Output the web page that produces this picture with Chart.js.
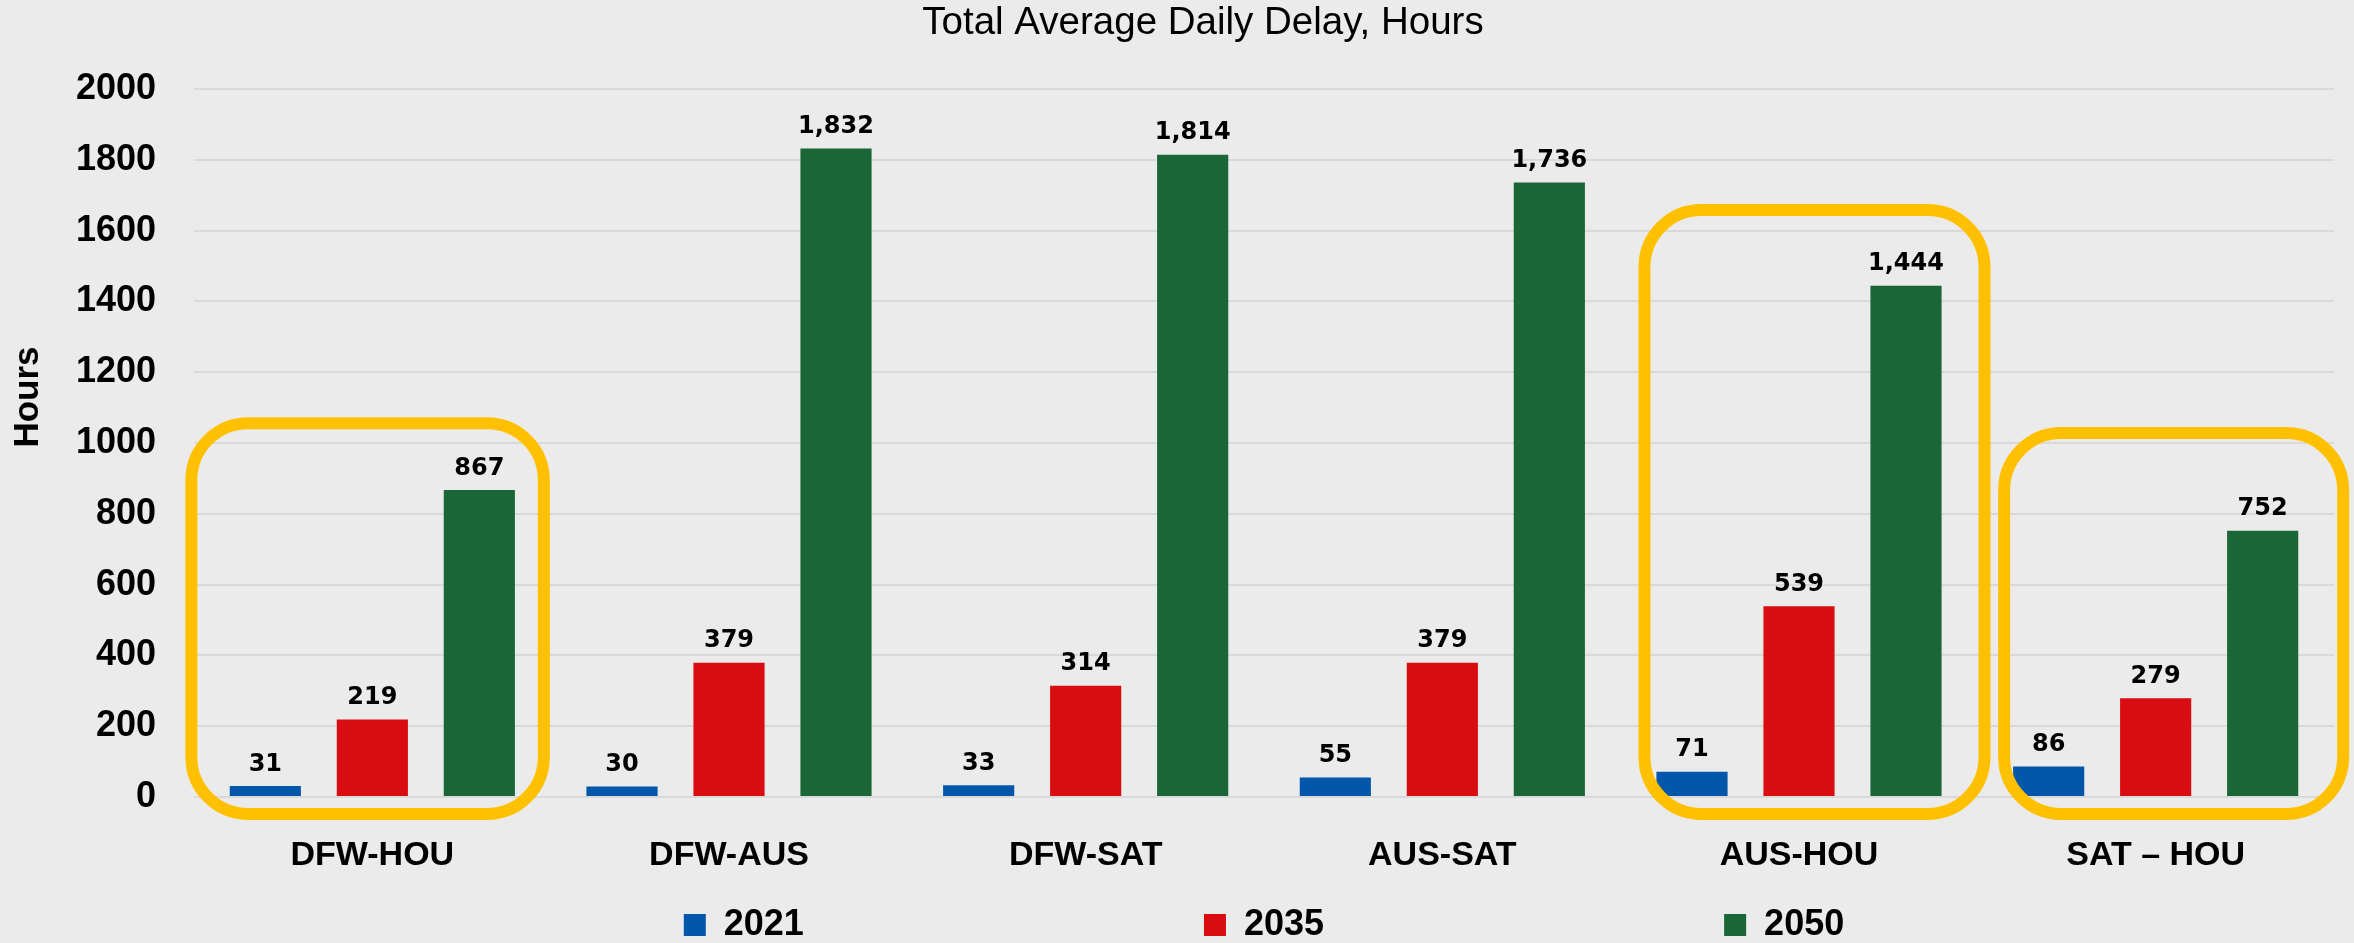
<!DOCTYPE html>
<html>
<head>
<meta charset="utf-8">
<script src="https://cdn.jsdelivr.net/npm/chart.js@4.4.1/dist/chart.umd.min.js"></script>
<style>
html,body{margin:0;padding:0;background:#ebebeb;}
canvas{display:block;}
</style>
</head>
<body>
<canvas id="c" width="2354" height="943"></canvas>
<script>
const categories = ['DFW-HOU', 'DFW-AUS', 'DFW-SAT', 'AUS-SAT', 'AUS-HOU', 'SAT – HOU'];
const seriesNames = ['2021', '2035', '2050'];
const values2021 = [31, 30, 33, 55, 71, 86];
const values2035 = [219, 379, 314, 379, 539, 279];
const values2050 = [867, 1832, 1814, 1736, 1444, 752];
const yTickValues = [0, 200, 400, 600, 800, 1000, 1200, 1400, 1600, 1800, 2000];
const chartTitle = 'Total Average Daily Delay, Hours';
const yAxisTitle = 'Hours';

const FONT = '"Liberation Sans", Arial, sans-serif';
const COLORS = ['#0357AB', '#D90D11', '#1A6636'];

const valueLabels = {
  id: 'valueLabels',
  afterDatasetsDraw(chart, args, opts) {
    const ctx = chart.ctx;
    ctx.save();
    ctx.font = opts.font;
    ctx.fillStyle = opts.color;
    ctx.textAlign = 'center';
    ctx.textBaseline = 'alphabetic';
    chart.data.datasets.forEach((ds, i) => {
      chart.getDatasetMeta(i).data.forEach((bar, j) => {
        ctx.fillText(ds.data[j].toLocaleString('en-US'), bar.x, bar.y - opts.gap);
      });
    });
    ctx.restore();
  }
};

const highlightBoxes = {
  id: 'highlightBoxes',
  afterDatasetsDraw(chart, args, opts) {
    const {ctx} = chart;
    const xs = chart.scales.x, ys = chart.scales.y;
    ctx.save();
    ctx.strokeStyle = opts.color;
    ctx.lineWidth = opts.lineWidth;
    opts.boxes.forEach(b => {
      const cx = xs.getPixelForValue(b.index);
      const l = cx + b.left, r = cx + b.right;
      const t = ys.getPixelForValue(b.top);
      const bt = ys.getPixelForValue(0) + opts.below;
      const rad = opts.radius;
      ctx.beginPath();
      ctx.moveTo(l + rad, t);
      ctx.arcTo(r, t, r, bt, rad);
      ctx.arcTo(r, bt, l, bt, rad);
      ctx.arcTo(l, bt, l, t, rad);
      ctx.arcTo(l, t, r, t, rad);
      ctx.closePath();
      ctx.stroke();
    });
    ctx.restore();
  }
};

const yTitlePlugin = {
  id: 'yTitlePlugin',
  afterDraw(chart, args, opts) {
    const {ctx} = chart;
    const ys = chart.scales.y;
    const cy = ys.top + (ys.bottom - ys.top) * opts.pos;
    ctx.save();
    ctx.translate(opts.x, cy);
    ctx.rotate(-Math.PI / 2);
    ctx.font = opts.font;
    ctx.fillStyle = '#000';
    ctx.textAlign = 'center';
    ctx.textBaseline = 'middle';
    ctx.fillText(opts.text, 0, 0);
    ctx.restore();
  }
};

const datasets = [values2021, values2035, values2050].map((vals, i) => ({
  label: seriesNames[i],
  data: vals,
  backgroundColor: COLORS[i],
  borderWidth: 0,
  categoryPercentage: 0.9,
  barPercentage: 0.665
}));

new Chart(document.getElementById('c'), {
  type: 'bar',
  data: { labels: categories, datasets },
  plugins: [valueLabels, highlightBoxes, yTitlePlugin],
  options: {
    responsive: false,
    animation: false,
    devicePixelRatio: 1,
    layout: { padding: { left: 72, right: 20, top: 0, bottom: -10 } },
    plugins: {
      title: {
        display: true,
        text: chartTitle,
        color: '#000',
        font: { family: FONT, size: 38.5, weight: 'normal' },
        padding: { top: 0.5, bottom: 42.3 }
      },
      legend: {
        position: 'bottom',
        fullSize: false,
        labels: {
          color: '#000',
          font: { family: FONT, size: 36, weight: 'bold' },
          boxWidth: 22,
          boxHeight: 22,
          padding: 20,
          generateLabels(chart) {
            const items = Chart.defaults.plugins.legend.labels.generateLabels(chart);
            items.forEach((it, i) => { if (i < items.length - 1) it.text = it.text + ' '.repeat(38); });
            return items;
          }
        }
      },
      tooltip: { enabled: false },
      valueLabels: { font: 'bold 24px "DejaVu Sans", Verdana, sans-serif', color: '#000', gap: 15.5 },
      highlightBoxes: {
        color: '#FFC000',
        lineWidth: 12,
        radius: 57,
        below: 17,
        boxes: [
          { index: 0, top: 1056, left: -181, right: 171.5 },
          { index: 4, top: 1658, left: -154.5, right: 185.5 },
          { index: 5, top: 1028, left: -151.5, right: 187.5 }
        ]
      },
      yTitlePlugin: { text: yAxisTitle, x: 28.5, pos: 0.435, font: 'bold 35px ' + FONT }
    },
    scales: {
      x: {
        grid: { display: false },
        border: { display: false },
        ticks: { color: '#000', font: { family: FONT, size: 34, weight: 'bold' }, padding: 30.6, maxRotation: 0, autoSkip: false },
        afterFit(s) { s.height = 90; }
      },
      y: {
        min: 0,
        max: 2000,
        afterBuildTicks(s) { s.ticks = yTickValues.map(v => ({ value: v })); },
        ticks: { color: '#000', font: { family: FONT, size: 36, weight: 'bold' }, padding: 38, callback: v => String(v) },
        grid: { color: '#d9d9d9', lineWidth: 2, drawTicks: false },
        border: { display: false },
        afterFit(s) { s.width = 122; }
      }
    }
  }
});
</script>
</body>
</html>
